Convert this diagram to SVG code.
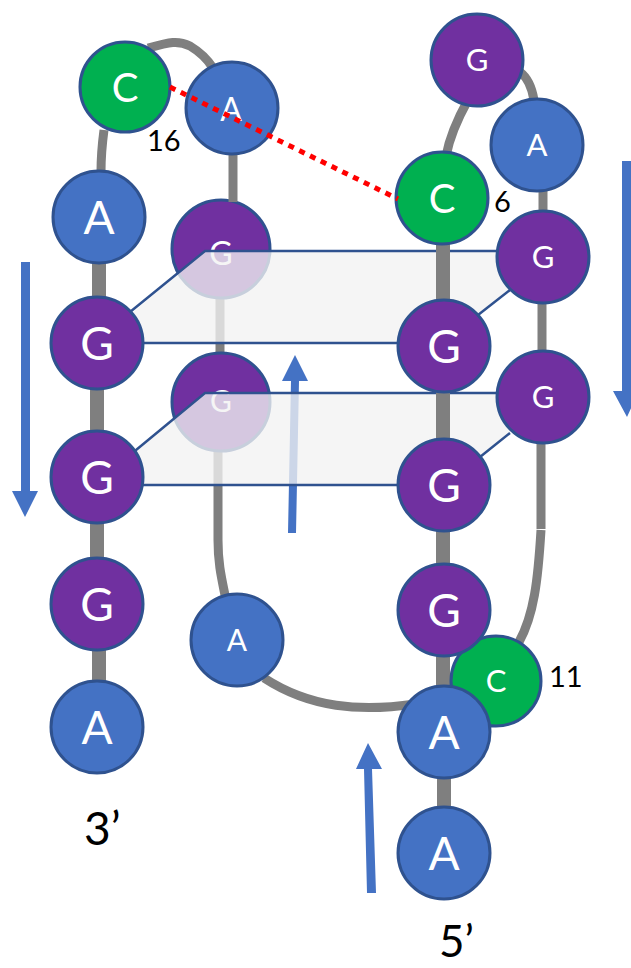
<svg xmlns="http://www.w3.org/2000/svg" width="631" height="968" viewBox="0 0 631 968">
<style>
.n{stroke:#2F528F;stroke-width:3}
.a{fill:#4472C4}.g{fill:#7030A0}.c{fill:#00B050}
text{font-family:Lato,"Open Sans",sans-serif}
.l{fill:#fff;text-anchor:middle}
.k{fill:#000}
.th{fill:none;stroke:#7F7F7F;stroke-width:14}
.tn{fill:none;stroke:#7F7F7F;stroke-width:9}
.p{fill:#F2F2F2;fill-opacity:.78;stroke:none}
.e{fill:none;stroke:#2F528F;stroke-width:2.5}
.ar{fill:#4472C4}
</style>
<rect width="631" height="968" fill="#fff"/>
<g id="connectors-back">
<path class="tn" d="M220 298V355"/>
<path class="tn" d="M218 450V540C218 565 222 580 226 600"/>
<path class="tn" d="M264 678C310 708 360 712 415 704"/>
</g>
<g id="node-g-back-1"><circle class="n g" cx="221" cy="249" r="49"/><text class="l" x="221" y="265" font-size="32">G</text></g>
<g id="node-g-back-2"><circle class="n g" cx="221" cy="402" r="49"/><text class="l" x="221" y="412" font-size="30">G</text></g>
<g id="arrow-middle"><path class="ar" d="M288 533L291 381H282L295 355L308 381H299L296 533Z"/></g>
<g id="planes">
<path class="p" d="M205 251H560L442 343L97 343Z"/>
<path class="p" d="M205 393H560L445 485H97Z"/>
<path class="e" d="M130 312L205 251H500M143 343H400M478 315L510 290"/>
<path class="e" d="M130 455L205 393H500M143 485H400M480 457L510 433"/>
</g>
<g id="connectors">
<path class="tn" d="M104 130C102 145 101 155 101 172"/>
<path class="tn" d="M148 48C170 42 178 40 190 46C200 52 208 60 213 68"/>
<path class="tn" d="M233 154V202"/>
<path class="th" d="M99 263V300M97 385V435M97 522V560M99 650V684"/>
<path class="tn" d="M446 156C450 135 458 118 468 100"/>
<path class="tn" d="M520 72C528 78 532 88 534 100"/>
<path class="tn" d="M543 190V212"/>
<path class="th" d="M443 243V305M443 390V440M443 530V570M443 655V690M444 775V810"/>
<path class="tn" d="M542 303V352"/>
<path class="tn" d="M541 443V529"/>
<path class="tn" d="M541 530C538 580 534 615 519 642"/>
</g>
<g id="node-c16"><circle class="n c" cx="125" cy="87" r="45"/><text class="l" x="125" y="102" font-size="40">C</text></g>
<g id="node-a-top"><circle class="n a" cx="232" cy="108" r="46"/><text class="l" x="231" y="121" font-size="32">A</text></g>
<g id="node-a-l1"><circle class="n a" cx="99" cy="217" r="46"/><text class="l" x="99" y="234" font-size="46">A</text></g>
<g id="node-g-l1"><circle class="n g" cx="97" cy="343" r="46"/><text class="l" x="97" y="360" font-size="46">G</text></g>
<g id="node-g-l2"><circle class="n g" cx="97" cy="477" r="46"/><text class="l" x="97" y="494" font-size="46">G</text></g>
<g id="node-g-l3"><circle class="n g" cx="97" cy="604" r="46"/><text class="l" x="97" y="621" font-size="46">G</text></g>
<g id="node-a-l4"><circle class="n a" cx="97" cy="727" r="46"/><text class="l" x="97" y="744" font-size="46">A</text></g>
<g id="node-a-mid"><circle class="n a" cx="237" cy="640" r="46"/><text class="l" x="237" y="651" font-size="30">A</text></g>
<g id="node-g-top"><circle class="n g" cx="477" cy="60" r="46"/><text class="l" x="477" y="71" font-size="31">G</text></g>
<g id="node-a-r1"><circle class="n a" cx="537" cy="145" r="46"/><text class="l" x="537" y="156" font-size="31">A</text></g>
<g id="node-c6"><circle class="n c" cx="442" cy="198" r="46"/><text class="l" x="442" y="213" font-size="40">C</text></g>
<g id="node-g-r1"><circle class="n g" cx="543" cy="257" r="46"/><text class="l" x="543" y="268" font-size="31">G</text></g>
<g id="node-g-c1"><circle class="n g" cx="444" cy="346" r="46"/><text class="l" x="444" y="363" font-size="46">G</text></g>
<g id="node-g-r2"><circle class="n g" cx="543" cy="397" r="46"/><text class="l" x="543" y="408" font-size="31">G</text></g>
<g id="node-g-c2"><circle class="n g" cx="444" cy="485" r="46"/><text class="l" x="444" y="502" font-size="46">G</text></g>
<g id="node-c11"><circle class="n c" cx="496" cy="681" r="45"/><text class="l" x="496" y="692" font-size="31">C</text></g>
<g id="node-g-c3"><circle class="n g" cx="444" cy="610" r="46"/><text class="l" x="444" y="627" font-size="46">G</text></g>
<g id="node-a-c4"><circle class="n a" cx="444" cy="732" r="46"/><text class="l" x="444" y="749" font-size="46">A</text></g>
<g id="node-a-c5"><circle class="n a" cx="444" cy="853" r="46"/><text class="l" x="444" y="870" font-size="46">A</text></g>
<g id="dotted"><path d="M170 87L398 199" fill="none" stroke="#FF0000" stroke-width="5" stroke-dasharray="6 6"/></g>
<g id="arrows">
<path class="ar" d="M21 262H30V491H38L25 517L12 491H21Z"/>
<path class="ar" d="M622 161H631V391H639L627 417L613 391H622Z"/>
<path class="ar" d="M367 893L364 769H356L368 743L382 769H372L376 893Z"/>
</g>
<g id="labels">
<text class="k" x="147" y="151" font-size="29">16</text>
<text class="k" x="494" y="212" font-size="29">6</text>
<text class="k" x="549" y="687" font-size="29">11</text>
<text class="k" x="84" y="845" font-size="46">3’</text>
<text class="k" x="439" y="957" font-size="44">5’</text>
</g>
</svg>
